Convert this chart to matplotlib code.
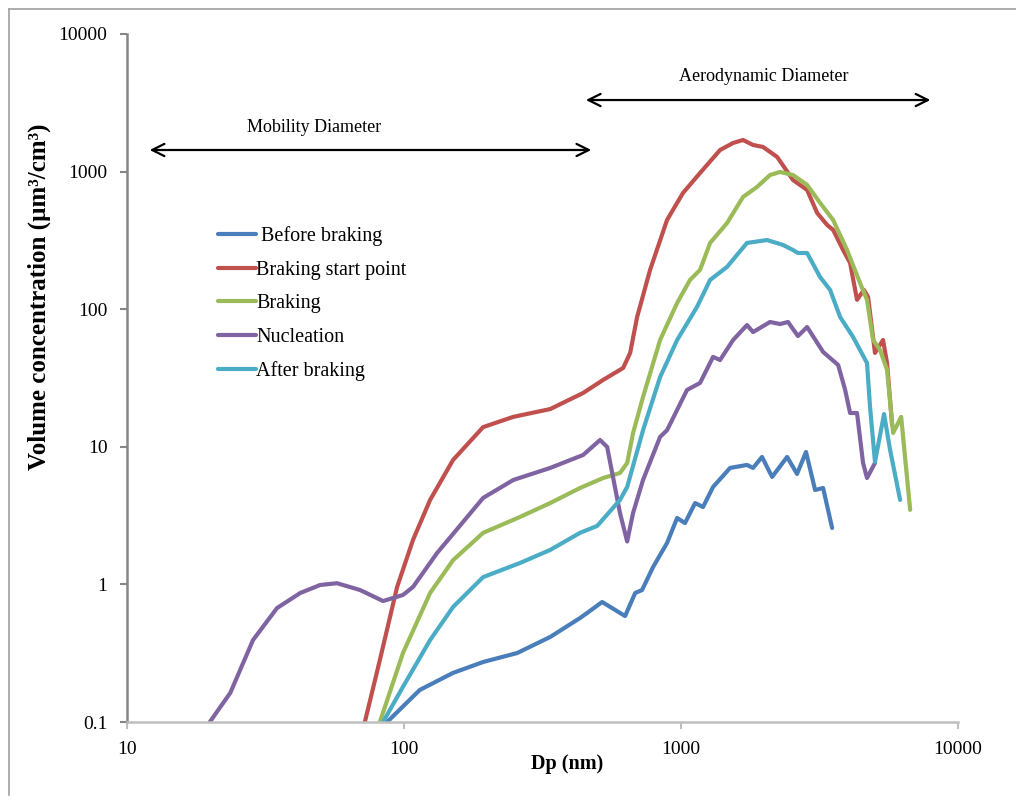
import matplotlib.pyplot as plt
from matplotlib.lines import Line2D

plt.rcParams['font.family'] = ['Liberation Serif', 'DejaVu Serif']

# particle size distributions, Dp in nm, volume concentration in um3/cm3
before_dp = [86.9, 114, 150, 193, 256, 337, 432, 458, 519, 628, 683, 723, 793, 890,
             968, 1033, 1124, 1200, 1305, 1503, 1730, 1819, 1960, 2131, 2415, 2622,
             2825, 3047, 3256, 3510]
before_v = [0.10, 0.171, 0.227, 0.273, 0.317, 0.415, 0.570, 0.620, 0.745, 0.589, 0.866,
            0.910, 1.34, 2.0, 3.04, 2.79, 3.90, 3.65, 5.11, 7.02, 7.38, 7.02, 8.44, 6.04,
            8.44, 6.35, 9.17, 4.85, 5.02, 2.57]

start_dp = [72.2, 81.8, 94.4, 107.7, 124.2, 150.3, 193, 248, 337, 443, 523, 618, 655,
            694, 773, 890, 1016, 1171, 1383, 1541, 1674, 1819, 1976, 2223, 2536, 2851,
            3100, 3369, 3539, 3846, 4075, 4317, 4570, 4731, 5012, 5360, 5541, 5778]
start_v = [0.10, 0.282, 0.957, 2.10, 4.11, 8.02, 13.9, 16.5, 18.8, 24.6, 30.6, 37.4,
           48.1, 87.7, 193, 445, 699, 977, 1435, 1614, 1697, 1561, 1510, 1277, 868,
           735, 500, 409, 377, 269, 217, 117, 138, 123, 48.1, 59.7, 40.6, 14.4]

braking_dp = [81.8, 99.1, 124.2, 150.3, 193, 262, 337, 432, 523, 602, 639, 671, 729,
              840, 968, 1077, 1171, 1273, 1466, 1674, 1880, 2095, 2277, 2536, 2851,
              3177, 3539, 3975, 4427, 4691, 4932, 5229, 5541, 5826, 6230, 6714]
braking_v = [0.10, 0.317, 0.866, 1.50, 2.37, 3.09, 3.90, 5.02, 5.93, 6.45, 7.63, 12.6,
             23.0, 59.7, 111, 163, 193, 303, 423, 654, 773, 944, 994, 944, 800, 592,
             445, 269, 155, 117, 59.7, 50.5, 36.2, 12.6, 16.5, 3.48]

nucl_dp = [19.9, 23.6, 28.5, 34.8, 42.2, 49.8, 57.3, 69.4, 84.0, 99.1, 107.7, 131.6,
           193, 248, 337, 443, 510, 541, 602, 639, 671, 729, 840, 890, 1051, 1171,
           1305, 1383, 1541, 1730, 1819, 2095, 2277, 2433, 2642, 2851, 3256, 3690,
           3911, 4075, 4317, 4539, 4691, 5012]
nucl_v = [0.10, 0.163, 0.394, 0.673, 0.866, 0.990, 1.02, 0.910, 0.757, 0.838, 0.957,
          1.69, 4.25, 5.74, 7.02, 8.72, 11.2, 9.97, 3.30, 2.05, 3.30, 5.74, 11.8, 13.2,
          25.9, 29.1, 45.0, 42.7, 59.7, 76.7, 68.2, 80.7, 78.0, 80.7, 63.8, 74.2, 48.9,
          39.3, 25.9, 17.6, 17.6, 7.63, 5.93, 7.63]

after_dp = [84.0, 99.1, 124.2, 150.3, 193, 262, 337, 432, 498, 602, 639, 729, 840, 968,
            1142, 1273, 1466, 1592, 1730, 2043, 2334, 2536, 2642, 2851, 3177, 3452,
            3752, 4177, 4691, 4810, 5012, 5404, 5683, 6177]
after_v = [0.10, 0.180, 0.394, 0.685, 1.13, 1.43, 1.78, 2.37, 2.66, 4.11, 5.11, 13.2,
           32.1, 59.7, 104, 163, 203, 248, 303, 318, 293, 269, 256, 256, 171, 138, 87.7,
           62.8, 40.6, 19.5, 7.76, 17.3, 9.48, 4.11]

series = [
    (' Before braking', before_dp, before_v, '#4A7EBB'),
    ('Braking start point', start_dp, start_v, '#C0504D'),
    ('Braking', braking_dp, braking_v, '#9BBB59'),
    ('Nucleation', nucl_dp, nucl_v, '#8064A2'),
    ('After braking', after_dp, after_v, '#4BACC6'),
]

fig = plt.figure(figsize=(10.16, 8.05), dpi=100)
ax = fig.add_axes([0.125, 0.1031, 0.818, 0.8547])

for label, dp, v, color in series:
    ax.plot(dp, v, color=color, lw=3.0, label=label,
            solid_joinstyle='round', solid_capstyle='round')

ax.set_xscale('log')
ax.set_yscale('log')
ax.set_xlim(10, 10000)
ax.set_ylim(0.1, 10000)
ax.set_xticks([10, 100, 1000, 10000])
ax.set_xticklabels(['10', '100', '1000', '10000'])
ax.set_yticks([0.1, 1, 10, 100, 1000, 10000])
ax.set_yticklabels(['0.1', '1', '10', '100', '1000', '10000'])
ax.minorticks_off()

for side in ['top', 'right']:
    ax.spines[side].set_visible(False)
ax.spines['left'].set_color('#868686')
ax.spines['left'].set_linewidth(1.8)
ax.spines['bottom'].set_color('#BFBFBF')
ax.spines['bottom'].set_linewidth(1.8)
ax.tick_params(axis='y', colors='#868686', length=5, width=1.5, labelsize=14,
               labelcolor='black', pad=9)
ax.tick_params(axis='x', colors='#BFBFBF', length=5, width=1.5, labelsize=14,
               labelcolor='black', pad=9)

ax.set_xlabel('Dp (nm)', fontsize=14.5, fontweight='bold')
ax.xaxis.set_label_coords(0.53, -0.046)
ax.set_ylabel('Volume concentration (µm³/cm³)', fontsize=18, fontweight='bold',
              va='center')
ax.yaxis.set_label_coords(-0.105, 0.618)

# size ranges of the two instruments
ax.annotate('', xy=(11.8, 1435), xytext=(485, 1435),
            arrowprops=dict(arrowstyle='<->', lw=1.6, color='black', mutation_scale=22))
ax.text(47.3, 2075, 'Mobility Diameter', fontsize=13, ha='center', va='center')
ax.annotate('', xy=(443, 3311), xytext=(8128, 3311),
            arrowprops=dict(arrowstyle='<->', lw=1.6, color='black', mutation_scale=22))
ax.text(1995, 4870, 'Aerodynamic Diameter', fontsize=13, ha='center', va='center')

leg = ax.legend(loc='upper left', bbox_to_anchor=(0.097, 0.735), frameon=False,
                fontsize=14.5, handlelength=1.9, handletextpad=0.0,
                labelspacing=0.72, borderpad=0)

# thin frame lines along the chart area edge
fig.add_artist(Line2D([0.009, 0.009], [0.012, 0.989], color='#A0A0A0', lw=1.2))
fig.add_artist(Line2D([0.009, 1.0], [0.989, 0.989], color='#A0A0A0', lw=1.2))

fig.savefig('out.png', dpi=100)
